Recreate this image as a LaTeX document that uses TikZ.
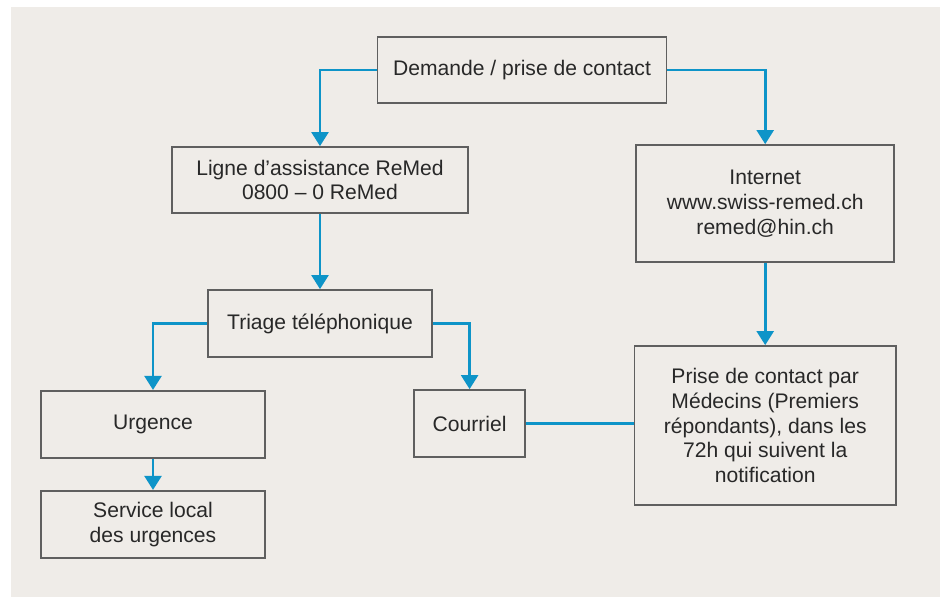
\documentclass[tikz,border=0pt]{standalone}
\usepackage{fontspec}
\setmainfont{Liberation Sans}
\usetikzlibrary{arrows.meta}

\definecolor{paper}{RGB}{239,236,232}
\definecolor{flowblue}{RGB}{14,148,200}
\definecolor{boxline}{RGB}{95,95,95}
\definecolor{ink}{RGB}{40,40,40}

\begin{document}
\begin{tikzpicture}[
    box/.style={draw=boxline, line width=1.2pt, fill=paper, align=center,
        text=ink, font=\fontsize{15}{17.5}\selectfont, inner sep=2pt},
    flow/.style={draw=flowblue, line width=2pt,
        -{Triangle[width=12pt,length=10pt]}},
]
    \useasboundingbox (0,0) rectangle (23.5,-14.925);
    \fill[paper] (0.275,-0.175) rectangle (23.5,-14.925);

    \node[box, minimum width=7.225cm, minimum height=1.65cm] (dem) at (13.05,-1.75) {Demande / prise de contact};
    \node[box, minimum width=7.4cm, minimum height=1.65cm] (ligne) at (8.0,-4.5) {Ligne d'assistance ReMed\\0800 -- 0 ReMed};
    \node[box, minimum width=6.45cm, minimum height=2.93cm] (inet) at (19.13,-5.09) {Internet\\www.swiss-remed.ch\\remed@hin.ch};
    \node[box, minimum width=5.6cm, minimum height=1.68cm] (triage) at (8.0,-8.09) {Triage téléphonique};
    \node[box, minimum width=5.6cm, minimum height=1.68cm] (urg) at (3.825,-10.61) {Urgence};
    \node[box, minimum width=5.6cm, minimum height=1.68cm] (serv) at (3.825,-13.11) {Service local\\des urgences};
    \node[box, minimum width=2.78cm, minimum height=1.68cm] (cour) at (11.74,-10.59) {Courriel};
    \node[box, minimum width=6.53cm, minimum height=3.98cm] (prise) at (19.13,-10.64) {Prise de contact par\\Médecins (Premiers\\répondants), dans les\\72h qui suivent la\\notification};

    \draw[flow] (dem.west) -| (ligne.north);
    \draw[flow] (dem.east) -| (inet.north);
    \draw[flow] (ligne) -- (triage);
    \draw[flow] (triage.west) -| (urg.north);
    \draw[flow] (triage.east) -| (cour.north);
    \draw[flow] (urg) -- (serv);
    \draw[flow] (inet) -- (prise);
    \draw[flowblue, line width=2pt] (cour.east) -- (cour.east -| prise.west);
\end{tikzpicture}
\end{document}
